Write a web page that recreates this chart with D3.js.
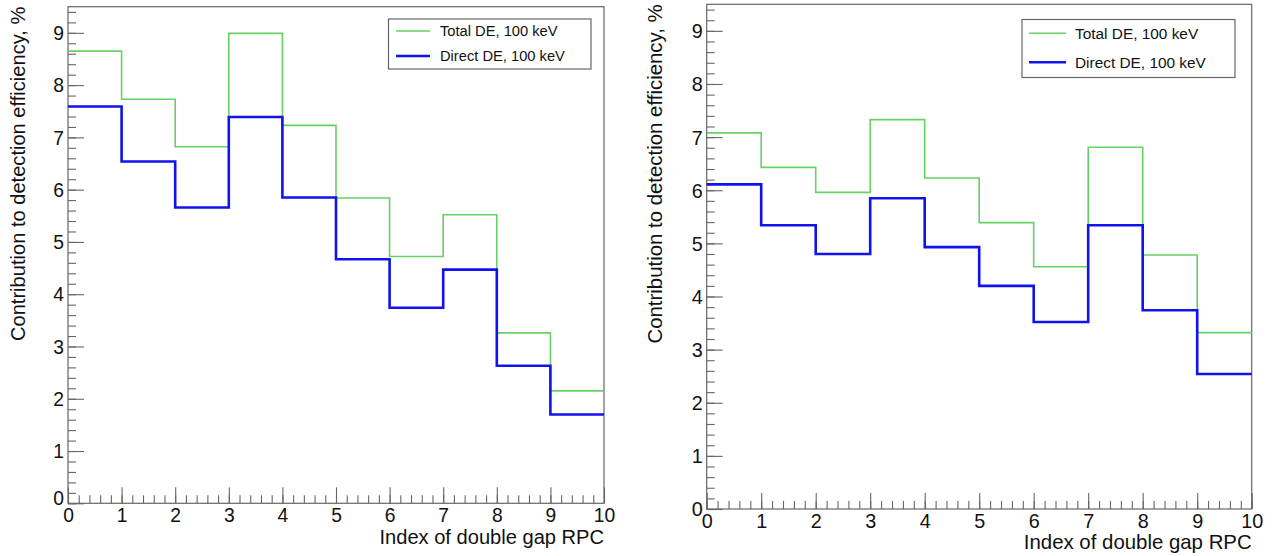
<!DOCTYPE html>
<html>
<head>
<meta charset="utf-8">
<script src="https://cdn.jsdelivr.net/npm/d3@7"></script>
<style>
  html, body { margin: 0; padding: 0; background: #ffffff; }
  svg { display: block; font-family: "Liberation Sans", Arial, Helvetica, sans-serif; }
</style>
</head>
<body>
<svg id="chart" width="1276" height="556"></svg>
<script>
// ---- data ----
const binEdges = [0, 1, 2, 3, 4, 5, 6, 7, 8, 9, 10];
const totalLeft  = [8.65, 7.73, 6.82, 8.99, 7.23, 5.84, 4.72, 5.52, 3.26, 2.15];
const directLeft = [7.59, 6.54, 5.66, 7.39, 5.85, 4.67, 3.74, 4.47, 2.63, 1.70];
const totalRight  = [7.08, 6.43, 5.96, 7.33, 6.23, 5.39, 4.56, 6.81, 4.78, 3.32];
const directRight = [6.11, 5.34, 4.80, 5.85, 4.93, 4.20, 3.52, 5.34, 3.74, 2.54];
const yTicks = [0, 1, 2, 3, 4, 5, 6, 7, 8, 9];
const xTicks = [0, 1, 2, 3, 4, 5, 6, 7, 8, 9, 10];
const seriesNames = ["Total DE, 100 keV", "Direct DE, 100 keV"];
const xTitle = "Index of double gap RPC";
const yTitle = "Contribution to detection efficiency, %";

const svg = d3.select("#chart");
const GREEN = "#66d166", BLUE = "#1212ee", AXIS = "#666666";

function panel(cfg, total, direct) {
  const g = svg.append("g");
  const x = d3.scaleLinear().domain([0, 10]).range([cfg.x0, cfg.x1]);
  const y = d3.scaleLinear().domain([0, 9.5]).range([cfg.yb, cfg.yt]);

  // frame
  g.append("rect").attr("x", cfg.x0).attr("y", cfg.yt)
    .attr("width", cfg.x1 - cfg.x0).attr("height", cfg.yb - cfg.yt)
    .attr("fill", "#fff").attr("stroke", AXIS).attr("stroke-width", 1.2);

  // minor ticks
  const yMinor = d3.range(0, 9.5001, 0.2).map(v => +v.toFixed(2));
  const xMinor = d3.range(0, 10.0001, 0.2).map(v => +v.toFixed(2));
  g.append("g").attr("transform", `translate(${cfg.x0},0)`)
    .call(d3.axisLeft(y).tickValues(yMinor).tickSize(-8).tickFormat(""))
    .call(a => a.select(".domain").remove())
    .call(a => a.selectAll("line").attr("stroke", AXIS).attr("stroke-width", 1.1));
  g.append("g").attr("transform", `translate(0,${cfg.yb})`)
    .call(d3.axisBottom(x).tickValues(xMinor).tickSize(-8).tickFormat(""))
    .call(a => a.select(".domain").remove())
    .call(a => a.selectAll("line").attr("stroke", AXIS).attr("stroke-width", 1.1));

  // major ticks with labels
  const ya = g.append("g").attr("transform", `translate(${cfg.x0},0)`)
    .call(d3.axisLeft(y).tickValues(yTicks).tickSizeInner(-16).tickSizeOuter(0).tickFormat(d3.format("d")));
  ya.select(".domain").remove();
  ya.selectAll("line").attr("stroke", AXIS).attr("stroke-width", 1.1);
  ya.selectAll("text").attr("x", -4).attr("dy", d => d === 0 ? (0.35 - cfg.zeroShift) + "em" : "0.35em")
    .attr("fill", "#111").style("font-size", cfg.fs + "px").style("font-family", "Liberation Sans, Arial, sans-serif");

  const xa = g.append("g").attr("transform", `translate(0,${cfg.yb})`)
    .call(d3.axisBottom(x).tickValues(xTicks).tickSizeInner(-16).tickSizeOuter(0).tickFormat(d3.format("d")));
  xa.select(".domain").remove();
  xa.selectAll("line").attr("stroke", AXIS).attr("stroke-width", 1.1);
  xa.selectAll("text").attr("y", cfg.xlab).attr("dy", 0)
    .attr("fill", "#111").style("font-size", cfg.fs + "px").style("font-family", "Liberation Sans, Arial, sans-serif");

  // histograms
  const line = d3.line().x(d => x(d[0])).y(d => y(d[1])).curve(d3.curveStepAfter);
  const pts = vals => binEdges.map((e, i) => [e, vals[Math.min(i, vals.length - 1)]]);
  g.append("path").attr("d", line(pts(total))).attr("fill", "none")
    .attr("stroke", GREEN).attr("stroke-width", 1.6);
  g.append("path").attr("d", line(pts(direct))).attr("fill", "none")
    .attr("stroke", BLUE).attr("stroke-width", 2.6);

  // axis titles
  g.append("text").attr("x", cfg.x1).attr("y", cfg.xtY).attr("text-anchor", "end")
    .attr("fill", "#111").style("font-size", cfg.tfs + "px").text(xTitle);
  g.append("text").attr("transform", `translate(${cfg.ytX},${cfg.yt}) rotate(-90)`)
    .attr("text-anchor", "end").attr("fill", "#111").style("font-size", cfg.tfs + "px").text(yTitle);

  // legend
  const L = cfg.leg;
  g.append("rect").attr("x", L.x).attr("y", L.y).attr("width", L.w).attr("height", L.h)
    .attr("fill", "#fff").attr("stroke", AXIS).attr("stroke-width", 1.2);
  const cols = [GREEN, BLUE], widths = [1.6, 2.6];
  seriesNames.forEach((name, i) => {
    const yy = L.rows[i];
    g.append("line").attr("x1", L.lx0).attr("x2", L.lx1).attr("y1", yy).attr("y2", yy)
      .attr("stroke", cols[i]).attr("stroke-width", widths[i]);
    g.append("text").attr("x", L.tx).attr("y", yy).attr("dy", "0.35em")
      .attr("fill", "#111").style("font-size", L.fs + "px").text(name);
  });
}

panel({ x0: 68, x1: 604, yt: 6.7, yb: 503.3, fs: 19.3, tfs: 20.1, xlab: 19, xtY: 543.5, ytX: 24.5, zeroShift: 0.28,
        leg: { x: 388.5, y: 19, w: 202.5, h: 50, lx0: 396, lx1: 430, tx: 440, rows: [31, 56], fs: 14.7 } },
      totalLeft, directLeft);
panel({ x0: 706.7, x1: 1251.7, yt: 4.3, yb: 509, fs: 19.8, tfs: 20.4, xlab: 19, xtY: 549, ytX: 662, zeroShift: 0,
        leg: { x: 1022, y: 19.5, w: 213, h: 58, lx0: 1029, lx1: 1066, tx: 1075, rows: [33.3, 62.3], fs: 15.4 } },
      totalRight, directRight);
</script>
</body>
</html>
